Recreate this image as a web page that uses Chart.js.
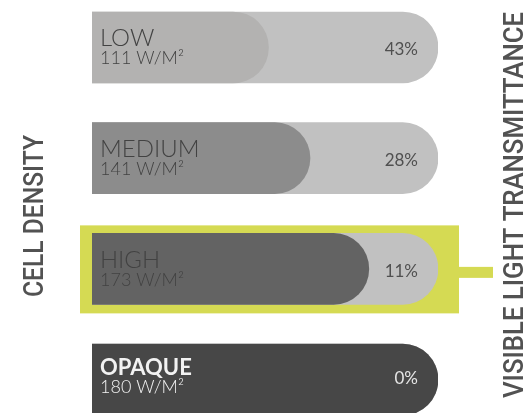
<!DOCTYPE html>
<html>
  <head>
    <title>Cell density</title>
    <script src="https://cdn.jsdelivr.net/npm/chart.js"></script>
    <style>
      html,
      body {
        margin: 0;
        padding: 0;
        background: #fff;
        overflow: hidden;
      }

      .chart-container {
        position: relative;
        width: 529px;
        height: 413px;
      }
    </style>
  </head>
  <body>
    <div class="chart-container">
      <canvas id="graph"></canvas>
    </div>
    <script>
      const densities = ["LOW", "MEDIUM", "HIGH", "OPAQUE"];
      const heatGain = [111, 141, 173, 180]; // W/M²
      const transmittance = [43, 28, 11, 0]; // %
      const coverage = [51, 63, 80, 100]; // dark part of the bar, % of length
      const highlighted = "HIGH";

      const fillColors = ["#b3b2b1", "#8c8c8c", "#636363", "#474747"];
      const trackColor = "#c1c1c1";
      const accent = "#d5da53";
      const titleFont = "Roboto, sans-serif";
      const labelFont = "Lato, sans-serif";

      // squeeze a rotated title into the given length
      function sideTitle(ctx, text, x, y, length) {
        ctx.save();
        ctx.font = "500 28px " + titleFont;
        ctx.fillStyle = "#525252";
        ctx.textAlign = "center";
        ctx.textBaseline = "alphabetic";
        const w = ctx.measureText(text).width;
        ctx.translate(x, y);
        ctx.rotate(-Math.PI / 2);
        ctx.scale(length / w, 1);
        ctx.fillText(text, 0, 0);
        ctx.restore();
      }

      // text, highlight frame and the two side titles
      const cellLabels = {
        id: "cellLabels",
        beforeDatasetsDraw(chart) {
          const ctx = chart.ctx;
          const bar = chart.getDatasetMeta(1).data[densities.indexOf(highlighted)];
          const top = bar.y - bar.height / 2;
          ctx.save();
          ctx.fillStyle = accent;
          ctx.fillRect(bar.base - 12, top - 8, bar.x - bar.base + 33, bar.height + 17);
          ctx.fillRect(bar.x + 21, bar.y - 2, 34, 11);
          ctx.restore();
        },
        afterDatasetsDraw(chart) {
          const ctx = chart.ctx;
          const meta = chart.getDatasetMeta(1);
          ctx.save();
          meta.data.forEach((bar, i) => {
            const opaque = coverage[i] >= 100;
            const dy = opaque ? -4 : 0;
            ctx.fillStyle = opaque ? "#f2f2f2" : "#424242";
            ctx.textAlign = "left";
            ctx.textBaseline = "alphabetic";
            ctx.font = (opaque ? "bold 22px " : "300 24px ") + labelFont;
            ctx.fillText(densities[i], bar.base + 8, bar.y - 1 + dy);
            ctx.font = "300 18px " + labelFont;
            ctx.fillText(heatGain[i] + " W/M²", bar.base + 8, bar.y + 17 + dy);
            ctx.fillStyle = opaque ? "#e6e6e6" : "#505050";
            ctx.textAlign = "right";
            ctx.font = "17px " + labelFont;
            ctx.fillText(transmittance[i] + "%", bar.x - 20, bar.y + 8 + dy);
          });
          ctx.restore();

          sideTitle(ctx, "CELL DENSITY", 43, 216, 162);
          sideTitle(ctx, "VISIBLE LIGHT TRANSMITTANCE", 523, 205, 386);
        },
      };

      const ctx = document.getElementById("graph").getContext("2d");
      new Chart(ctx, {
        type: "bar",
        data: {
          datasets: [
            {
              label: "Cell density",
              data: coverage.map((v, i) => ({ x: v, y: i })),
              backgroundColor: fillColors,
            },
            {
              label: "Visible light transmittance",
              data: densities.map((d, i) => ({ x: 100, y: i })),
              backgroundColor: trackColor,
            },
          ],
        },
        options: {
          indexAxis: "y",
          responsive: true,
          maintainAspectRatio: false,
          animation: false,
          layout: { padding: { left: 92, right: 91, top: 0, bottom: 0 } },
          datasets: {
            bar: {
              grouped: false,
              barThickness: 71,
              borderWidth: 0,
              borderSkipped: "start",
              borderRadius: { topRight: 40, bottomRight: 40 },
            },
          },
          scales: {
            x: { type: "linear", min: 0, max: 100, display: false },
            y: {
              type: "linear",
              min: -0.429,
              max: 3.302,
              reverse: true,
              offset: false,
              display: false,
            },
          },
          plugins: {
            legend: { display: false },
            tooltip: { enabled: false },
          },
        },
        plugins: [cellLabels],
      });
    </script>
  </body>
</html>
